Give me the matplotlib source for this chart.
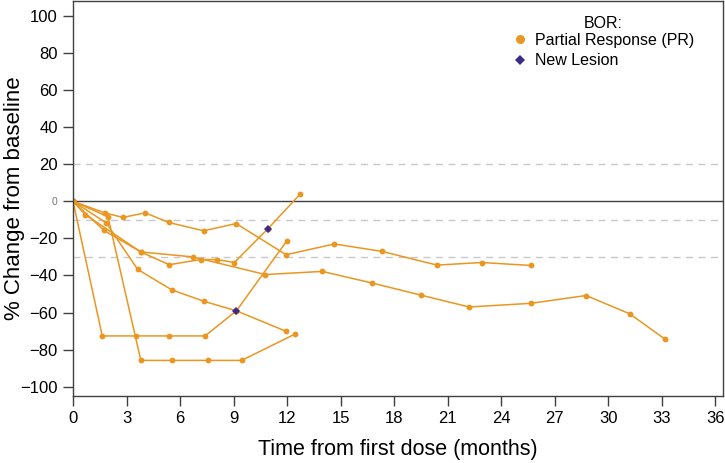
import matplotlib
matplotlib.use("Agg")
import matplotlib.pyplot as plt
from matplotlib.lines import Line2D

plt.rcParams['font.family'] = ['Liberation Sans', 'DejaVu Sans']

# % change from baseline per patient (months, %)
p1_x = [0, 1.77, 2.8, 4.05, 5.36, 7.32, 9.14, 11.94, 14.65, 17.3, 20.4, 22.9, 25.67]
p1_y = [0, -6.2, -8.7, -6.2, -11.4, -15.9, -12, -28.8, -23, -27, -34.4, -33, -34.6]
p2_x = [0, 1.72, 3.8, 5.39, 7.15, 8.07, 9.04, 10.9, 12.74]
p2_y = [0, -15.6, -27.3, -34.2, -31.4, -31.4, -33, -15, 4]
p3_x = [0, 1.64, 3.54, 5.36, 7.4, 9.16, 11.97]
p3_y = [0, -72.6, -72.6, -72.6, -72.6, -59, -21.5]
p4_x = [0, 1.96, 3.8, 5.56, 7.58, 9.45, 12.46]
p4_y = [0, -8.3, -85.8, -85.8, -85.8, -85.8, -71.5]
p5_x = [0, 1.86, 3.62, 5.52, 7.33, 9.16, 11.94]
p5_y = [0, -11.6, -36.7, -47.7, -53.9, -59.1, -70.1]
p6_x = [0, 0.69, 3.8, 6.73, 10.78, 13.97, 16.73, 19.5, 22.2, 25.67, 28.75, 31.2, 33.15]
p6_y = [0, -7.2, -27.3, -30, -39.5, -37.8, -44, -50.6, -57, -55, -50.8, -60.7, -74.2]

# new lesion timepoints
nl_x = [10.9, 9.16]
nl_y = [-15, -59]

x_ticks = list(range(0, 37, 3))
y_ticks = list(range(-100, 101, 20))

orange = '#EA9620'
purple = '#3C2A8A'

fig = plt.figure(figsize=(7.25, 4.63), dpi=100)
ax = fig.add_axes([0.1007, 0.1447, 0.896, 0.853])

# reference lines
ax.axhline(0, color='#404040', lw=1.0, zorder=1)
for yy in [20, -10, -30]:
    ax.axhline(yy, color='#c8c8c8', lw=1.0, ls=(0, (5, 4)), zorder=1)

for xs, ys in [(p1_x, p1_y), (p2_x, p2_y), (p3_x, p3_y),
               (p4_x, p4_y), (p5_x, p5_y), (p6_x, p6_y)]:
    ax.plot(xs, ys, color=orange, lw=1.1, marker='o', ms=4.2,
            markeredgewidth=0, zorder=2)

ax.plot(nl_x, nl_y, ls='none', marker='D', ms=4.5, color=purple,
        markeredgewidth=0, zorder=3)

ax.set_xlim(0, 36.4)
ax.set_ylim(-105, 108)
ax.set_xticks(x_ticks)
ax.set_yticks(y_ticks)
ax.tick_params(direction='out', length=7, width=1, color='#404040',
               labelsize=12, pad=4)

for lbl in ax.get_yticklabels():
    if lbl.get_text() in ('0', '−0'):
        lbl.set_fontsize(7.5)
        lbl.set_color('#777777')

for s in ax.spines.values():
    s.set_color('#404040')
    s.set_linewidth(1.0)

ax.set_xlabel('Time from first dose (months)', fontsize=15.5, labelpad=9)
ax.set_ylabel('% Change from baseline', fontsize=16)
ax.yaxis.set_label_coords(-0.074, 0.5)

handles = [
    Line2D([], [], ls='none', marker='o', ms=6.5, color=orange, markeredgewidth=0),
    Line2D([], [], ls='none', marker='D', ms=5, color=purple, markeredgewidth=0),
]
leg = ax.legend(handles, ['Partial Response (PR)', 'New Lesion'], title='BOR:',
                loc='upper right', bbox_to_anchor=(0.978, 0.998), frameon=False,
                fontsize=11.5, title_fontsize=11.5, handletextpad=0.4,
                handlelength=1.0, labelspacing=0.35)
leg._legend_box.sep = 1

fig.savefig('out.png', dpi=100)
